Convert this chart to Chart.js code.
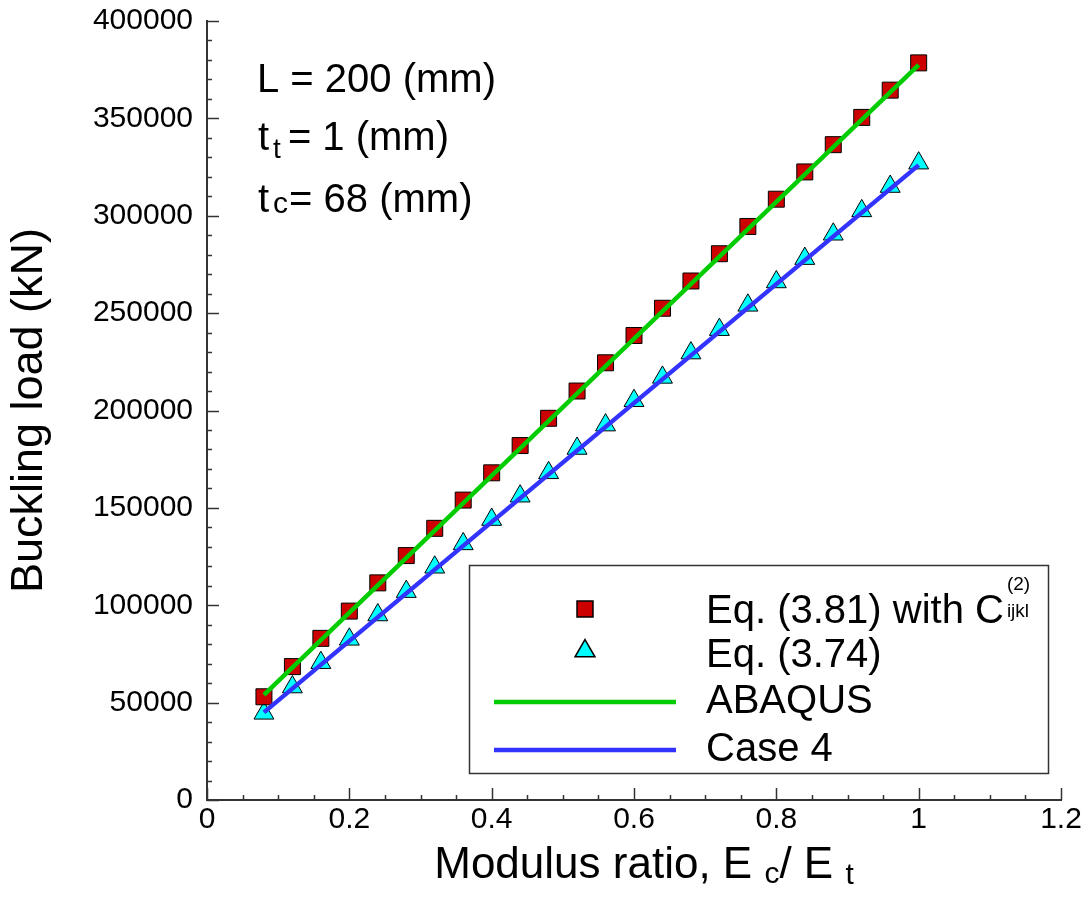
<!DOCTYPE html>
<html>
<head>
<meta charset="utf-8">
<script src="https://cdn.jsdelivr.net/npm/chart.js@4.4.0/dist/chart.umd.min.js"></script>
<style>
  html, body { margin: 0; padding: 0; background: #fff; }
</style>
</head>
<body>
<canvas id="chart" width="1090" height="916"></canvas>
<script>
const FONT = '"Liberation Sans", Arial, Helvetica, sans-serif';

// modulus ratio Ec/Et for the marker series
const modulusRatio = [0.08, 0.12, 0.16, 0.2, 0.24, 0.28, 0.32, 0.36, 0.4, 0.44, 0.48, 0.52,
                      0.56, 0.6, 0.64, 0.68, 0.72, 0.76, 0.8, 0.84, 0.88, 0.92, 0.96, 1.0];
// Eq. (3.81) with C(2)ijkl  (squares)
const eq381Load = [53000, 68500, 83000, 97000, 111500, 125500, 139500, 154000, 168000, 182000, 196000, 210000,
                   224500, 238500, 252500, 266500, 280500, 294500, 308500, 322500, 336500, 350500, 364500, 378500];
// Eq. (3.74)  (triangles)
const eq374Load = [44500, 58000, 70500, 82500, 95000, 107000, 119500, 131500, 144000, 156000, 168000, 180500,
                   192500, 205000, 217000, 229500, 241500, 254000, 266000, 278000, 290500, 302500, 315000, 327000];
// lines
const abaqusX = [0.08, 1.0];
const abaqusLoad = [54000, 377500];
const case4X = [0.08, 1.0];
const case4Load = [45000, 326000];

const xTicks = [0, 0.2, 0.4, 0.6, 0.8, 1, 1.2];
const yTicks = [0, 50000, 100000, 150000, 200000, 250000, 300000, 350000, 400000];

const toPts = (xs, ys) => xs.map((x, i) => ({ x: x, y: ys[i] }));

// draws a run of text pieces (normal / sub / superscript), returns end x
function drawRich(ctx, x, y, parts) {
    let cx = x;
    parts.forEach(p => {
        cx += p.dx || 0;
        ctx.font = p.size + 'px ' + FONT;
        ctx.fillText(p.t, cx, y + (p.dy || 0));
        cx += ctx.measureText(p.t).width;
    });
    return cx;
}
function richWidth(ctx, parts) {
    let w = 0;
    parts.forEach(p => {
        ctx.font = p.size + 'px ' + FONT;
        w += (p.dx || 0) + ctx.measureText(p.t).width;
    });
    return w;
}

const extras = {
    id: 'extras',
    afterDraw(chart) {
        const ctx = chart.ctx;
        const xs = chart.scales.x, ys = chart.scales.y;
        const a = chart.chartArea;
        ctx.save();

        // inward ticks
        ctx.strokeStyle = '#333';
        ctx.lineWidth = 1.5;
        for (let i = 0; i <= 24; i++) {
            const px = Math.round(xs.getPixelForValue(i * 0.05)) + 0.5;
            const len = i % 4 === 0 ? 12 : 5;
            ctx.beginPath();
            ctx.moveTo(px, a.bottom);
            ctx.lineTo(px, a.bottom - len);
            ctx.stroke();
        }
        for (let i = 0; i <= 40; i++) {
            const py = Math.round(ys.getPixelForValue(i * 10000)) + 0.5;
            const len = i % 5 === 0 ? 12 : 5;
            ctx.beginPath();
            ctx.moveTo(a.left, py);
            ctx.lineTo(a.left + len, py);
            ctx.stroke();
        }

        ctx.fillStyle = '#000';
        ctx.textAlign = 'left';
        ctx.textBaseline = 'alphabetic';

        // parameter notes
        drawRich(ctx, 257, 92, [{ t: 'L = 200 (mm)', size: 40 }]);
        drawRich(ctx, 258, 150, [{ t: 't', size: 40 }, { t: 't', size: 28, dx: 4, dy: 8 }, { t: '= 1 (mm)', size: 40, dx: 7 }]);
        drawRich(ctx, 258, 212, [{ t: 't', size: 40 }, { t: 'c', size: 30, dx: 4, dy: 1 }, { t: '= 68 (mm)', size: 40, dx: 1 }]);

        // legend box
        ctx.strokeStyle = '#333';
        ctx.lineWidth = 1.5;
        ctx.strokeRect(469.5, 565.5, 579, 208);

        ctx.fillStyle = '#cc0000';
        ctx.strokeStyle = '#000';
        Chart.helpers.drawPoint(ctx, { pointStyle: 'rect', radius: 11.3, rotation: 0, borderWidth: 1 }, 585, 609);
        ctx.fillStyle = '#00ffff';
        Chart.helpers.drawPoint(ctx, { pointStyle: 'triangle', radius: 11.5, rotation: 0, borderWidth: 1 }, 585, 651);

        ctx.lineWidth = 4.5;
        ctx.strokeStyle = '#00cc00';
        ctx.beginPath(); ctx.moveTo(494, 702); ctx.lineTo(676, 702); ctx.stroke();
        ctx.strokeStyle = '#3333ff';
        ctx.beginPath(); ctx.moveTo(494, 750); ctx.lineTo(676, 750); ctx.stroke();

        ctx.fillStyle = '#000';
        const endC = drawRich(ctx, 706, 623, [{ t: 'Eq. (3.81) with C', size: 40 }]);
        drawRich(ctx, endC + 3, 590, [{ t: '(2)', size: 19 }]);
        drawRich(ctx, endC + 3, 617, [{ t: 'ijkl', size: 19 }]);
        drawRich(ctx, 706, 667, [{ t: 'Eq. (3.74)', size: 40 }]);
        drawRich(ctx, 706, 713, [{ t: 'ABAQUS', size: 40 }]);
        drawRich(ctx, 706, 761, [{ t: 'Case 4', size: 40 }]);

        // x axis title with subscripts
        const xt = [{ t: 'Modulus ratio, E ', size: 44 }, { t: 'c', size: 30, dy: 5 }, { t: '/ E ', size: 44 },
                    { t: 't', size: 30, dy: 6 }];
        const w = richWidth(ctx, xt);
        drawRich(ctx, 644 - w / 2, 878, xt);

        ctx.restore();
    }
};

Chart.defaults.font.family = FONT;

new Chart(document.getElementById('chart'), {
    type: 'scatter',
    data: {
        datasets: [
            {
                label: 'ABAQUS',
                data: toPts(abaqusX, abaqusLoad),
                showLine: true,
                borderColor: '#00cc00',
                borderWidth: 4.5,
                pointRadius: 0,
                fill: false,
                order: 0
            },
            {
                label: 'Case 4',
                data: toPts(case4X, case4Load),
                showLine: true,
                borderColor: '#3333ff',
                borderWidth: 4.5,
                pointRadius: 0,
                fill: false,
                order: 0
            },
            {
                label: 'Eq. (3.81) with C(2)ijkl',
                data: toPts(modulusRatio, eq381Load),
                pointStyle: 'rect',
                pointRadius: 11.3,
                backgroundColor: '#cc0000',
                borderColor: '#000',
                borderWidth: 1,
                order: 1
            },
            {
                label: 'Eq. (3.74)',
                data: toPts(modulusRatio, eq374Load),
                pointStyle: 'triangle',
                pointRadius: 11.5,
                backgroundColor: '#00ffff',
                borderColor: '#000',
                borderWidth: 1,
                order: 1
            }
        ]
    },
    options: {
        responsive: false,
        animation: false,
        layout: { padding: { top: 21, right: 29, left: 0, bottom: 0 } },
        plugins: {
            legend: { display: false },
            tooltip: { enabled: false }
        },
        scales: {
            x: {
                type: 'linear',
                min: 0,
                max: 1.2,
                afterFit: s => { s.height = 116; s.paddingLeft = 0; s.paddingRight = 0; },
                afterBuildTicks: s => { s.ticks = xTicks.map(v => ({ value: v })); },
                grid: { display: false, drawTicks: false },
                border: { display: true, color: '#333', width: 2 },
                ticks: {
                    color: '#000',
                    font: { size: 30 },
                    padding: 2,
                    autoSkip: false,
                    maxRotation: 0,
                    callback: v => String(+v.toFixed(2))
                }
            },
            y: {
                type: 'linear',
                min: 0,
                max: 400000,
                afterFit: s => { s.width = 207; s.paddingTop = 0; s.paddingBottom = 0; },
                afterBuildTicks: s => { s.ticks = yTicks.map(v => ({ value: v })); },
                grid: { display: false, drawTicks: false },
                border: { display: true, color: '#333', width: 2 },
                ticks: {
                    color: '#000',
                    font: { size: 30 },
                    padding: 14,
                    autoSkip: false,
                    callback: v => String(v)
                },
                title: {
                    display: true,
                    text: 'Buckling load (kN)',
                    color: '#000',
                    font: { size: 45 },
                    padding: { top: 3, bottom: 0 }
                }
            }
        }
    },
    plugins: [extras]
});
</script>
</body>
</html>
